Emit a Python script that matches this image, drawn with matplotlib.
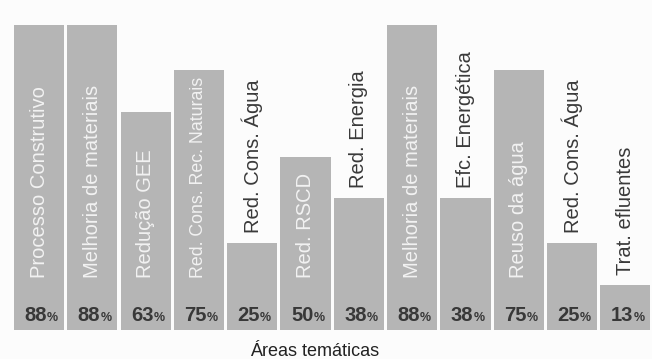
import matplotlib.pyplot as plt

# áreas temáticas e percentuais
areas = ['Processo Construtivo', 'Melhoria de materiais', 'Redução GEE',
         'Red. Cons. Rec. Naturais', 'Red. Cons. Água', 'Red. RSCD',
         'Red. Energia', 'Melhoria de materiais', 'Efc. Energética',
         'Reuso da água', 'Red. Cons. Água', 'Trat. efluentes']
percentuais = [88, 88, 63, 75, 25, 50, 38, 88, 38, 75, 25, 13]

plt.rcParams['font.family'] = ['Liberation Sans', 'DejaVu Sans']

fig = plt.figure(figsize=(6.52, 3.59), dpi=100)
fig.patch.set_facecolor('#fcfcfc')
ax = fig.add_axes([12.4 / 652, 29 / 359, 1 - 12.4 / 652, 330 / 359])
ax.set_facecolor('#fcfcfc')

x = list(range(len(areas)))
ax.bar(x, percentuais, width=0.94, color='#b5b5b5', edgecolor='none')

ax.set_xlim(-0.5, 11.5)
ax.set_ylim(0, 95.2)
ax.axis('off')

renderer = fig.canvas.get_renderer()
for i, (nome, p) in enumerate(zip(areas, percentuais)):
    # rótulo dentro da barra quando cabe, senão acima dela
    if p >= 50:
        t = ax.text(i, 15.0, nome, rotation=90, ha='center', va='bottom',
                    fontsize=14.5, color='#f2f2f2')
        topo = ax.transData.transform((i, p))[1] - 6
        alto = t.get_window_extent(renderer).y1
        if alto > topo:
            base = ax.transData.transform((i, 15.0))[1]
            t.set_fontsize(14.5 * (topo - base) / (alto - base))
    else:
        ax.text(i, p + 2.9, nome, rotation=90, ha='center', va='bottom',
                fontsize=14.5, color='#3a3a3a')
    ax.text(i + 0.15, 2.6, str(p), ha='right', va='baseline',
            fontsize=14.5, fontweight='bold', color='#383838')
    ax.text(i + 0.15, 2.6, '%', ha='left', va='baseline',
            fontsize=9, fontweight='bold', color='#383838')

fig.text(315 / 652, 1 - 352 / 359, 'Áreas temáticas', ha='center', va='center',
         fontsize=13, color='#222222')

fig.savefig('out.png', dpi=100, facecolor=fig.get_facecolor())
